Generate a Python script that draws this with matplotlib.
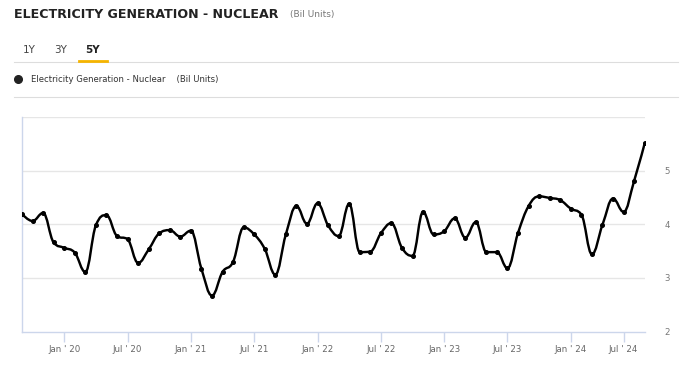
import matplotlib
matplotlib.use("Agg")
import matplotlib.pyplot as plt
from matplotlib.path import Path
from matplotlib.patches import PathPatch
from matplotlib.lines import Line2D

# monthly values, Sep 2019 .. Aug 2024 (bil units)
values = [4.19, 4.06, 4.21, 3.66, 3.56, 3.47, 3.11, 3.98, 4.17, 3.78,
          3.72, 3.28, 3.53, 3.83, 3.89, 3.77, 3.88, 3.17, 2.67, 3.11,
          3.30, 3.94, 3.81, 3.54, 3.06, 3.81, 4.34, 4.01, 4.39, 3.98,
          3.78, 4.38, 3.48, 3.49, 3.83, 4.02, 3.56, 3.41, 4.23, 3.81,
          3.87, 4.11, 3.75, 4.04, 3.48, 3.48, 3.18, 3.84, 4.34, 4.52,
          4.49, 4.45, 4.29, 4.18, 3.44, 3.99, 4.48, 4.23, 4.81, 5.51]
tick_pos = [4, 10, 16, 22, 28, 34, 40, 46, 52, 57]
tick_labels = ["Jan ' 20", "Jul ' 20", "Jan ' 21", "Jul ' 21", "Jan ' 22",
               "Jul ' 22", "Jan ' 23", "Jul ' 23", "Jan ' 24", "Jul ' 24"]
y_ticks = [2, 3, 4, 5]

title = "ELECTRICITY GENERATION - NUCLEAR"
units = "(Bil Units)"
series_name = "Electricity Generation - Nuclear"
ranges = ["1Y", "3Y", "5Y"]

AXIS_C = "#ccd6eb"
GRID_C = "#e6e6e6"
LABEL_C = "#666666"


def spline_path(xs, ys, smoothing=1.5):
    # same kind of bezier smoothing as a highcharts spline
    verts = [(xs[0], ys[0])]
    codes = [Path.MOVETO]
    n = len(xs)
    ctrl = []
    for i in range(n):
        if i == 0 or i == n - 1:
            ctrl.append((xs[i], ys[i], xs[i], ys[i]))
            continue
        px, py = xs[i], ys[i]
        lx, ly = xs[i - 1], ys[i - 1]
        nx, ny = xs[i + 1], ys[i + 1]
        d = smoothing + 1
        lcx = (smoothing * px + lx) / d
        lcy = (smoothing * py + ly) / d
        rcx = (smoothing * px + nx) / d
        rcy = (smoothing * py + ny) / d
        if rcx != lcx:
            corr = (rcy - lcy) * (rcx - px) / (rcx - lcx) + py - rcy
            lcy += corr
            rcy += corr
        if lcy > ly and lcy > py:
            lcy = max(ly, py)
            rcy = 2 * py - lcy
        elif lcy < ly and lcy < py:
            lcy = min(ly, py)
            rcy = 2 * py - lcy
        if rcy > ny and rcy > py:
            rcy = max(ny, py)
            lcy = 2 * py - rcy
        elif rcy < ny and rcy < py:
            rcy = min(ny, py)
            lcy = 2 * py - rcy
        ctrl.append((lcx, lcy, rcx, rcy))
    for i in range(1, n):
        verts += [(ctrl[i - 1][2], ctrl[i - 1][3]),
                  (ctrl[i][0], ctrl[i][1]),
                  (xs[i], ys[i])]
        codes += [Path.CURVE4] * 3
    return Path(verts, codes)


W, H = 688, 391
fig = plt.figure(figsize=(W / 100, H / 100), dpi=100)


def fx(px):
    return px / W


def fy(py):
    return 1 - py / H


# header
fig.text(fx(14), fy(14), title, fontsize=9.1, fontweight="bold",
         color="#222222", va="center", ha="left")
fig.text(fx(290), fy(15), units, fontsize=6.5, color="#777777",
         va="center", ha="left")

for lab, x0 in zip(ranges, [23, 54, 85]):
    fig.text(fx(x0), fy(50), lab, fontsize=7.5, va="center", ha="left",
             color="#222222" if lab == "5Y" else "#444444",
             fontweight="bold" if lab == "5Y" else "normal")
fig.add_artist(Line2D([fx(14), fx(678)], [fy(61.5), fy(61.5)],
                      color="#dddddd", lw=0.8))
fig.add_artist(Line2D([fx(79), fx(107)], [fy(60.5), fy(60.5)],
                      color="#f5b400", lw=2))

fig.add_artist(Line2D([fx(18)], [fy(79)], marker="o", markersize=5.5,
                      color="#222222", lw=0))
fig.text(fx(31), fy(79), series_name + "    " + units, fontsize=6.1,
         color="#333333", va="center", ha="left")
fig.add_artist(Line2D([fx(14), fx(678)], [fy(96.5), fy(96.5)],
                      color="#dddddd", lw=0.8))

# plot area
ax = fig.add_axes([fx(22), fy(331.5), fx(644.7 - 22), (331.5 - 117) / H])
xs = list(range(len(values)))
ax.set_xlim(0, len(values) - 1)
ax.set_ylim(2, 6)

for v in [3, 4, 5, 6]:
    ax.axhline(v, color=GRID_C, lw=1, zorder=0)

ax.add_patch(PathPatch(spline_path(xs, values), fill=False,
                       edgecolor="black", lw=1.75, zorder=3,
                       capstyle="round", joinstyle="round"))
ax.plot(xs, values, "o", color="black", markersize=2.6, zorder=4)

for s in ["top", "right"]:
    ax.spines[s].set_visible(False)
for s in ["left", "bottom"]:
    ax.spines[s].set_color(AXIS_C)
    ax.spines[s].set_linewidth(1)

ax.set_xticks(tick_pos)
ax.set_xticklabels(tick_labels)
ax.tick_params(axis="x", length=7, width=1, color=AXIS_C, labelsize=6.2,
               labelcolor=LABEL_C, pad=3)
ax.yaxis.tick_right()
ax.set_yticks(y_ticks)
ax.set_yticklabels([str(v) for v in y_ticks])
ax.tick_params(axis="y", length=0, labelsize=6.2, labelcolor="#777777",
               pad=14)

fig.savefig("out.png", dpi=100)
